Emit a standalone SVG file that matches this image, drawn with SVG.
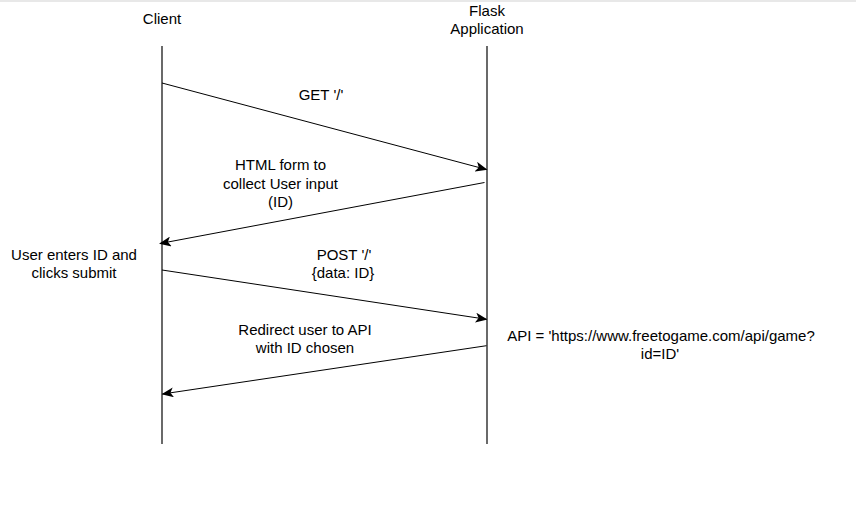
<svg xmlns="http://www.w3.org/2000/svg" width="856" height="511" viewBox="0 0 856 511">
<style>
text{font-family:"Liberation Sans",Arial,sans-serif;font-size:15px;fill:#000;text-anchor:middle}
.life{stroke:#444;stroke-width:1.6;fill:none}
.msg{stroke:#000;stroke-width:1;fill:none}
</style>
<defs>
<marker id="ah" viewBox="0 0 12 10" refX="11" refY="5" markerWidth="12" markerHeight="10" markerUnits="userSpaceOnUse" orient="auto">
<path d="M0,0 L12,5 L0,10 L3,5 Z" fill="#000"/>
</marker>
</defs>
<rect width="856" height="511" fill="#fff"/>
<line x1="0" y1="1" x2="856" y2="1" stroke="#e0e0e0" stroke-width="1.5"/>
<g id="client">
<text x="162" y="24">Client</text>
<line class="life" x1="162" y1="46" x2="162" y2="444"/>
</g>
<g id="flask">
<text x="487" y="16">Flask</text>
<text x="487" y="34">Application</text>
<line class="life" x1="487" y1="46" x2="487" y2="444"/>
</g>
<g id="note-user">
<text x="74" y="260">User enters ID and</text>
<text x="74" y="278">clicks submit</text>
</g>
<g id="note-api">
<text x="661" y="341">API = 'https://www.freetogame.com/api/game?</text>
<text x="660" y="358.5">id=ID'</text>
</g>
<g id="connectors">
<line class="msg" x1="162" y1="83" x2="486.5" y2="169.5" marker-end="url(#ah)"/>
<line class="msg" x1="484.5" y1="182.5" x2="160" y2="243.5" marker-end="url(#ah)"/>
<line class="msg" x1="162" y1="270" x2="486.5" y2="319.3" marker-end="url(#ah)"/>
<line class="msg" x1="486.5" y1="345.7" x2="162.5" y2="394" marker-end="url(#ah)"/>
<text x="321" y="99.5">GET '/'</text>
<text x="280.5" y="170">HTML form to</text>
<text x="280.5" y="188.5">collect User input</text>
<text x="280.5" y="206.5">(ID)</text>
<text x="344" y="260">POST '/'</text>
<text x="343" y="278">{data: ID}</text>
<text x="305" y="335">Redirect user to API</text>
<text x="305" y="353">with ID chosen</text>
</g>
</svg>
